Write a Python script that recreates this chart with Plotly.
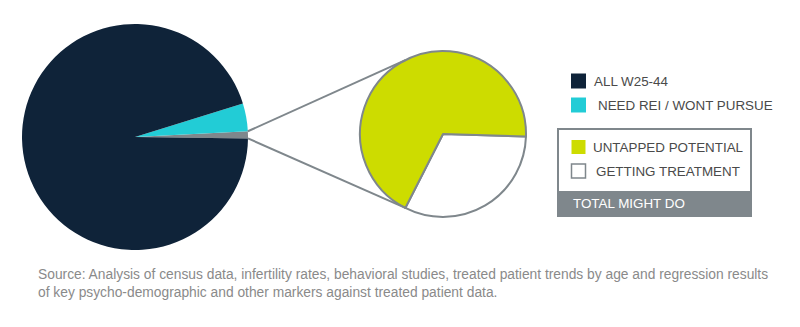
import math
import plotly.graph_objects as go

W, H = 800, 327

# ---- data ----
big_labels = ["TOTAL MIGHT DO", "NEED REI / WONT PURSUE", "ALL W25-44"]
big_values = [1, 4, 95]
small_labels = ["GETTING TREATMENT", "UNTAPPED POTENTIAL"]
small_values = [32, 68]
legend_top = ["ALL W25-44", "NEED REI / WONT PURSUE"]
legend_box = ["UNTAPPED POTENTIAL", "GETTING TREATMENT"]
box_footer = "TOTAL MIGHT DO"
source_text = ("Source: Analysis of census data, infertility rates, behavioral studies, treated patient trends by age and regression results<br>"
               "of key psycho-demographic and other markers against treated patient data.")

# ---- styles ----
NAVY = "#0f2339"
CYAN = "#22ccd6"
LIME = "#cddc00"
GRAY = "#7f878c"
TXT = "#4a4a4a"
FONT = "Liberation Sans, Arial, sans-serif"

def px(x):
    return x / W

def py(y):
    return 1 - y / H

# geometry (pixels)
BCX, BCY, BR = 135, 137, 113
SCX, SCY, SR = 443, 134, 83
BIG_START = -0.7      # math degrees where first slice starts (ccw from there)
SMALL_START = -117.0

gray_span = 360 * big_values[0] / sum(big_values)
white_span = 360 * small_values[0] / sum(small_values)

fig = go.Figure()
# plotly ccw: first slice lies clockwise of the rotation angle
fig.add_trace(go.Pie(
    labels=big_labels, values=big_values, sort=False, direction="counterclockwise",
    rotation=90 - (BIG_START + gray_span), textinfo="none", hoverinfo="label+percent",
    marker=dict(colors=[GRAY, CYAN, NAVY], line=dict(width=0)),
    domain=dict(x=[px(BCX - BR), px(BCX + BR)], y=[py(BCY + BR), py(BCY - BR)]),
    showlegend=False,
))
fig.add_trace(go.Pie(
    labels=small_labels, values=small_values, sort=False, direction="counterclockwise",
    rotation=90 - (SMALL_START + white_span), textinfo="none", hoverinfo="label+percent",
    marker=dict(colors=["#ffffff", LIME], line=dict(width=2, color=GRAY)),
    domain=dict(x=[px(SCX - SR), px(SCX + SR)], y=[py(SCY + SR), py(SCY - SR)]),
    showlegend=False,
))

shapes = []
# connector lines from gray slice edges to small pie
a_low = math.radians(BIG_START)
a_high = math.radians(BIG_START + gray_span)
for a_big, a_small in [(a_high, math.radians(-SMALL_START)), (a_low, math.radians(SMALL_START))]:
    x0 = BCX + BR * math.cos(a_big)
    y0 = BCY - BR * math.sin(a_big)
    x1 = SCX + SR * math.cos(a_small)
    y1 = SCY - SR * math.sin(a_small)
    shapes.append(dict(type="line", xref="paper", yref="paper",
                       x0=px(x0), y0=py(y0), x1=px(x1), y1=py(y1),
                       line=dict(color=GRAY, width=2)))

annotations = []
# top legend
top_colors = [NAVY, CYAN]
top_y = [81, 105]
top_tx = [592, 596]
for lab, col, yc, tx in zip(legend_top, top_colors, top_y, top_tx):
    shapes.append(dict(type="rect", xref="paper", yref="paper",
                       x0=px(571), x1=px(586), y0=py(yc - 7.5), y1=py(yc + 7.5),
                       fillcolor=col, line=dict(width=0)))
    annotations.append(dict(text=lab, x=px(tx), y=py(yc), xref="paper", yref="paper",
                            xanchor="left", yanchor="middle", showarrow=False,
                            font=dict(family=FONT, size=13.4, color=TXT)))

# box
shapes.append(dict(type="rect", xref="paper", yref="paper",
                   x0=px(558), x1=px(751), y0=py(216), y1=py(191),
                   fillcolor=GRAY, line=dict(width=0)))
shapes.append(dict(type="rect", xref="paper", yref="paper",
                   x0=px(558), x1=px(751), y0=py(216), y1=py(129),
                   fillcolor="rgba(0,0,0,0)", line=dict(width=2, color=GRAY)))
box_colors = [LIME, "#ffffff"]
box_y = [147, 171]
box_tx = [591, 594]
for lab, col, yc, tx in zip(legend_box, box_colors, box_y, box_tx):
    shapes.append(dict(type="rect", xref="paper", yref="paper",
                       x0=px(571.5), x1=px(585.5), y0=py(yc - 7), y1=py(yc + 7),
                       fillcolor=col, line=dict(width=1.5 if col == "#ffffff" else 0, color=GRAY)))
    annotations.append(dict(text=lab, x=px(tx), y=py(yc), xref="paper", yref="paper",
                            xanchor="left", yanchor="middle", showarrow=False,
                            font=dict(family=FONT, size=13.4, color=TXT)))
annotations.append(dict(text=box_footer, x=px(571), y=py(203), xref="paper", yref="paper",
                        xanchor="left", yanchor="middle", showarrow=False,
                        font=dict(family=FONT, size=13.4, color="#ffffff")))

# source
annotations.append(dict(text=source_text, x=px(36), y=py(283.5), xref="paper", yref="paper",
                        xanchor="left", yanchor="middle", align="left", showarrow=False,
                        font=dict(family=FONT, size=13.8, color="#8a8a8a")))

fig.update_layout(
    width=W, height=H, margin=dict(l=0, r=0, t=0, b=0),
    paper_bgcolor="#ffffff", plot_bgcolor="#ffffff",
    shapes=shapes, annotations=annotations,
)
fig.write_html("out.html")
